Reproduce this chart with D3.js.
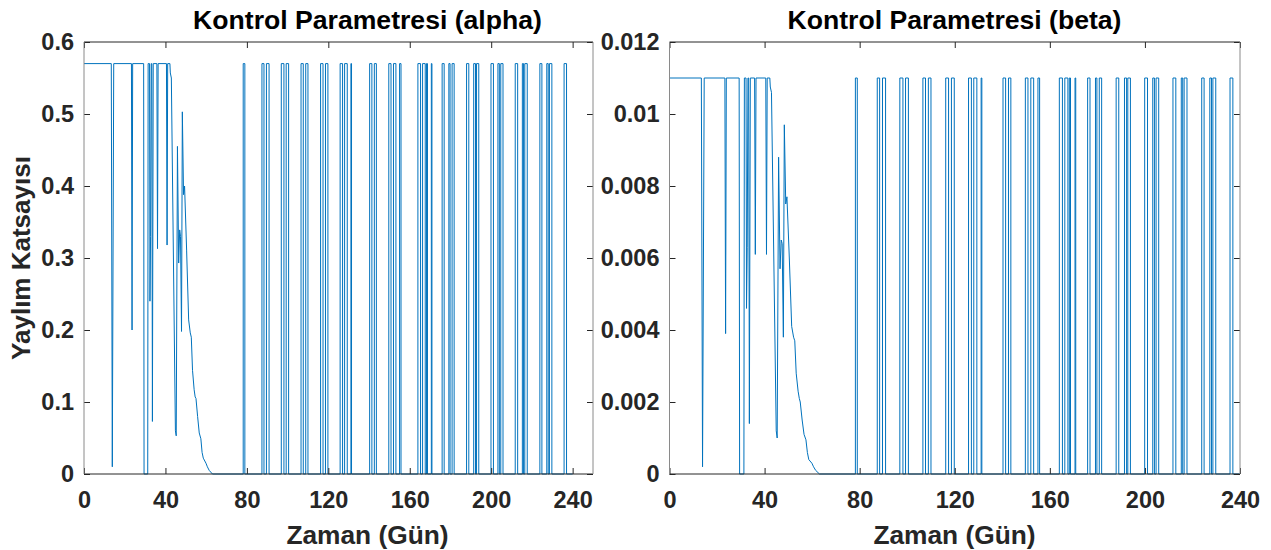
<!DOCTYPE html>
<html>
<head>
<meta charset="utf-8">
<script src="https://cdn.jsdelivr.net/npm/d3@7"></script>
<style>
  body { margin: 0; background: #fff; }
  svg { display: block; }
</style>
</head>
<body>
<div id="chart"></div>
<script>
// eksen etiketleri
const xTicks = [0, 40, 80, 120, 160, 200, 240];
const alphaTicks = [0, 0.1, 0.2, 0.3, 0.4, 0.5, 0.6];
const betaTicks = [0, 0.002, 0.004, 0.006, 0.008, 0.01, 0.012];

// ilk 65 gün (gün, değer)
const earlyDays = [0, 13.4, 13.9, 14.6, 23.3, 23.6, 23.9, 29.3, 29.5, 31.3, 31.5, 32.2, 32.4, 32.7, 33.0,
    33.3, 33.6, 34.0, 35.8, 36.1, 36.4, 40.5, 40.8, 41.1, 42.2, 42.4, 42.9, 44.9, 45.3, 45.9,
    46.5, 47.0, 47.4, 47.9, 48.3, 48.9, 49.4, 50.4, 51.4, 52.2, 52.7, 53.3, 54.1, 54.6, 55.0,
    55.8, 56.6, 57.4, 58.0, 58.6, 59.9, 60.6, 61.5, 63.1];
const earlyAlpha = [0.57, 0.57, 0.01, 0.57, 0.57, 0.20, 0.57, 0.57, 0, 0, 0.57, 0.57, 0.24, 0.33, 0.57,
    0.57, 0.073, 0.57, 0.57, 0.313, 0.57, 0.57, 0.318, 0.57, 0.57, 0.557, 0.55, 0.06, 0.053, 0.455,
    0.293, 0.339, 0.33, 0.198, 0.503, 0.388, 0.40, 0.311, 0.214, 0.196, 0.19, 0.144, 0.117, 0.107, 0.105,
    0.08, 0.057, 0.049, 0.03, 0.022, 0.015, 0.01, 0.005, 0];
const earlyBeta = [0.011, 0.011, 0.0002, 0.011, 0.011, 0.0039, 0.011, 0.011, 0, 0, 0.011, 0.011, 0.0046, 0.0063, 0.011,
    0.011, 0.0014, 0.011, 0.011, 0.0061, 0.011, 0.011, 0.0061, 0.011, 0.011, 0.01075, 0.0106, 0.0012, 0.001, 0.0088,
    0.0057, 0.0065, 0.0064, 0.0038, 0.0097, 0.0075, 0.0077, 0.006, 0.0041, 0.0038, 0.0037, 0.0028, 0.0023, 0.0021, 0.002,
    0.0015, 0.0011, 0.00095, 0.0006, 0.0004, 0.0003, 0.0002, 0.0001, 0];

// 63. günden sonra açma-kapama darbeleri
const pulseStart = [78.2, 87.4, 89.6, 96.9, 99.3, 106.6, 108.9, 116.2, 118.6, 125.8, 128.0, 131.1, 140.3,
    142.6, 149.7, 152.0, 155.0, 164.0, 166.3, 168.2, 170.6, 175.9, 179.2, 180.8, 187.9, 191.4, 192.8,
    199.9, 203.3, 204.7, 211.8, 215.3, 216.5, 223.9, 227.3, 228.6, 235.8];
const pulseEnd = [79.0, 88.4, 90.9, 98.2, 100.5, 107.7, 110.0, 117.4, 119.8, 127.0, 129.3, 131.4, 141.4,
    143.6, 150.8, 153.2, 155.7, 165.3, 167.6, 168.7, 170.9, 176.9, 179.8, 181.8, 189.0, 192.3, 193.9,
    201.1, 204.0, 205.8, 213.0, 215.9, 217.7, 224.9, 228.0, 229.8, 237.0];
const alphaHigh = 0.57;
const betaHigh = 0.011;
const lastDay = 240;

const textColor = "#262626";
const fontFamily = "'Liberation Sans', Arial, sans-serif";

function buildSeries(earlyValues, high) {
    let pts = earlyDays.map((d, i) => [d, earlyValues[i]]);
    pulseStart.forEach((s, i) => {
        pts.push([s, 0], [s, high], [pulseEnd[i], high], [pulseEnd[i], 0]);
    });
    pts.push([lastDay, 0]);
    return pts;
}

const svg = d3.select("#chart").append("svg")
    .attr("width", 1271)
    .attr("height", 550);

function drawPanel(opt) {
    const x = d3.scaleLinear().domain([0, opt.xMax]).range([opt.left, opt.right]);
    const y = d3.scaleLinear().domain([0, opt.yMax]).range([opt.bottom, opt.top]);

    const g = svg.append("g");

    // veri çizgisi
    g.append("path")
        .datum(opt.data)
        .attr("fill", "none")
        .attr("stroke", "#0072BD")
        .attr("stroke-width", 1)
        .attr("d", d3.line().x(d => x(d[0])).y(d => y(d[1])));

    // alt eksen
    const bx = g.append("g")
        .attr("transform", `translate(0,${opt.bottom})`)
        .call(d3.axisBottom(x).tickValues(xTicks).tickSize(-6).tickPadding(17).tickFormat(d => d));
    // üst eksen
    const tx = g.append("g")
        .attr("transform", `translate(0,${opt.top})`)
        .call(d3.axisTop(x).tickValues(xTicks).tickSize(-6).tickFormat(""));
    // sol eksen
    const ly = g.append("g")
        .attr("transform", `translate(${opt.left},0)`)
        .call(d3.axisLeft(y).tickValues(opt.yTicks).tickSize(-6).tickPadding(10).tickFormat(d => d));
    // sağ eksen
    const ry = g.append("g")
        .attr("transform", `translate(${opt.right},0)`)
        .call(d3.axisRight(y).tickValues(opt.yTicks).tickSize(-6).tickFormat(""));

    [bx, tx, ly, ry].forEach(a => {
        a.select(".domain").remove();
        a.selectAll(".tick line").attr("stroke", textColor);
        a.selectAll("text")
            .attr("fill", textColor)
            .style("font-family", fontFamily)
            .style("font-size", "23.5px")
            .style("font-weight", "bold");
    });

    // çerçeve
    g.append("line").attr("x1", opt.left).attr("x2", opt.right)
        .attr("y1", opt.top).attr("y2", opt.top).attr("stroke", textColor);
    g.append("line").attr("x1", opt.left).attr("x2", opt.right)
        .attr("y1", opt.bottom).attr("y2", opt.bottom).attr("stroke", textColor);
    g.append("line").attr("x1", opt.left).attr("x2", opt.left)
        .attr("y1", opt.top).attr("y2", opt.bottom).attr("stroke", "#8a8a8a");
    g.append("line").attr("x1", opt.right).attr("x2", opt.right)
        .attr("y1", opt.top).attr("y2", opt.bottom).attr("stroke", "#8a8a8a");

    // başlık
    g.append("text")
        .attr("x", opt.labelX)
        .attr("y", 29)
        .attr("text-anchor", "middle")
        .attr("fill", "#000")
        .style("font-family", fontFamily)
        .style("font-size", "26.6px")
        .style("font-weight", "bold")
        .text(opt.title);

    // x etiketi
    g.append("text")
        .attr("x", opt.labelX)
        .attr("y", 543.5)
        .attr("text-anchor", "middle")
        .attr("fill", textColor)
        .style("font-family", fontFamily)
        .style("font-size", "26.3px")
        .style("font-weight", "bold")
        .text("Zaman (Gün)");

    if (opt.yLabel) {
        g.append("text")
            .attr("transform", `translate(29.5,${(opt.top + opt.bottom) / 2}) rotate(-90)`)
            .attr("text-anchor", "middle")
            .attr("fill", textColor)
            .style("font-family", fontFamily)
            .style("font-size", "26px")
            .style("font-weight", "bold")
            .text(opt.yLabel);
    }
}

drawPanel({
    left: 84, right: 593, top: 42, bottom: 474, labelX: 367.5,
    xMax: 250, yMax: 0.6, yTicks: alphaTicks,
    data: buildSeries(earlyAlpha, alphaHigh),
    title: "Kontrol Parametresi (alpha)",
    yLabel: "Yaylım Katsayısı"
});

drawPanel({
    left: 669.5, right: 1240, top: 42, bottom: 474, labelX: 954.5,
    xMax: 240, yMax: 0.012, yTicks: betaTicks,
    data: buildSeries(earlyBeta, betaHigh),
    title: "Kontrol Parametresi (beta)"
});
</script>
</body>
</html>
